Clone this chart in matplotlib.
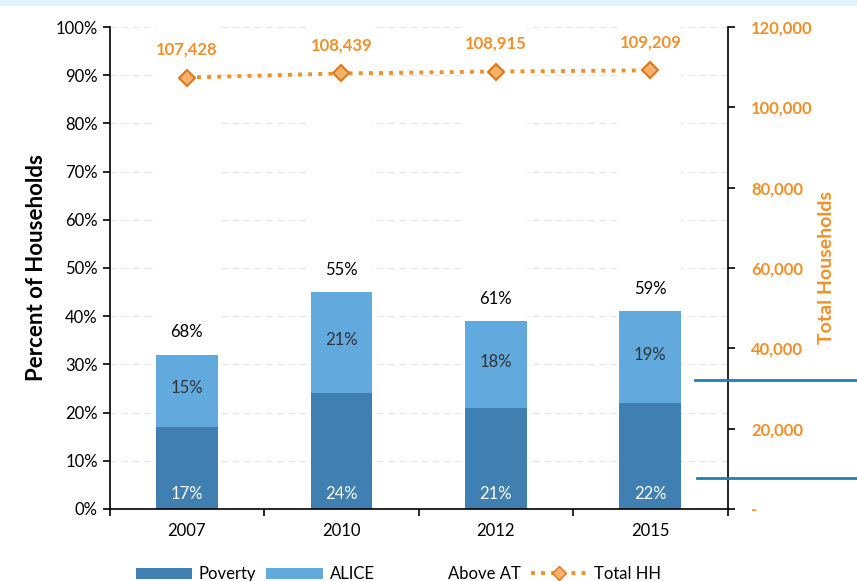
import matplotlib
matplotlib.use('Agg')
import matplotlib.pyplot as plt
import numpy as np
from matplotlib.patches import Patch
from matplotlib.lines import Line2D
from matplotlib.ticker import FuncFormatter, MultipleLocator

plt.rcParams['font.family'] = ['Lato', 'DejaVu Sans']

years = ['2007', '2010', '2012', '2015']
poverty = [17, 24, 21, 22]
alice = [15, 21, 18, 19]
above_at = [68, 55, 61, 59]
total_hh = [107428, 108439, 108915, 109209]

dark_blue = '#3f7fb1'
light_blue = '#62a9de'
orange = '#f0902a'

fig = plt.figure(figsize=(8.57, 5.81), dpi=100)
ax = fig.add_axes([0.128, 0.124, 0.721, 0.8295])

x = np.arange(len(years))
w = 0.4
base2 = np.array(poverty)
base3 = base2 + np.array(alice)

ax.bar(x, poverty, w, color=dark_blue, zorder=2)
ax.bar(x, alice, w, bottom=base2, color=light_blue, zorder=2)
ax.bar(x, above_at, w, bottom=base3, color='white', zorder=2)

for i in range(len(years)):
    ax.text(x[i], 3, f'{poverty[i]}%', ha='center', va='center', color='white', fontsize=12, zorder=3)
    ax.text(x[i], base2[i] + alice[i] / 2 + 0.5, f'{alice[i]}%', ha='center', va='center',
            color='#333333', fontsize=12, zorder=3)
    ax.text(x[i], base3[i] + 3, f'{above_at[i]}%', ha='center', va='bottom',
            color='black', fontsize=12, zorder=3)

ax.set_xlim(-0.5, len(years) - 0.5)
ax.set_ylim(0, 100)
ax.yaxis.set_major_locator(MultipleLocator(10))
ax.yaxis.set_major_formatter(FuncFormatter(lambda v, p: f'{int(v)}%'))
ax.set_xticks(x)
ax.set_xticklabels(years, fontsize=12)
ax.set_xticks(np.arange(-0.5, len(years)), minor=True)
ax.tick_params(axis='x', which='major', length=0, pad=10)
ax.tick_params(axis='x', which='minor', length=5, width=1.2)
ax.tick_params(axis='y', length=5, width=1.2, labelsize=12)
ax.set_ylabel('Percent of Households', fontsize=16, fontweight='bold', labelpad=6)
ax.grid(axis='y', color='#e4e4e4', linestyle=(0, (6, 4)), linewidth=0.8, zorder=0)
for s in ['top', 'right']:
    ax.spines[s].set_visible(False)
ax.spines['left'].set_linewidth(1.2)
ax.spines['bottom'].set_linewidth(1.2)

ax2 = ax.twinx()
ax2.plot(x, total_hh, linestyle=(0, (1, 1.6)), color=orange, linewidth=2.8,
         marker='D', markersize=8, markerfacecolor='#f6b26b', markeredgecolor='#e0781a',
         markeredgewidth=1.5, zorder=4)
for i in range(len(years)):
    ax2.text(x[i], total_hh[i] + 5000, f'{total_hh[i]:,}', ha='center', va='bottom',
             color=orange, fontsize=12, fontweight='bold')
ax2.set_ylim(0, 120000)
ax2.yaxis.set_major_locator(MultipleLocator(20000))
ax2.yaxis.set_major_formatter(FuncFormatter(lambda v, p: '-' if v == 0 else f'{int(v):,}'))
ax2.tick_params(axis='y', length=5, width=1.2, labelsize=12, labelcolor=orange, pad=12)
for lbl in ax2.get_yticklabels():
    lbl.set_fontweight('bold')
ax2.set_ylabel('Total Households', fontsize=14, fontweight='bold', color=orange, labelpad=4)
for s in ['top', 'left', 'bottom']:
    ax2.spines[s].set_visible(False)
ax2.spines['right'].set_linewidth(1.2)

handles = [Patch(facecolor=dark_blue), Patch(facecolor=light_blue), Patch(facecolor='white'),
           Line2D([], [], linestyle=(0, (1, 1.6)), color=orange, linewidth=2.8, marker='D',
                  markersize=7, markerfacecolor='#f6b26b', markeredgecolor='#e0781a')]
labels = ['Poverty', 'ALICE', 'Above AT', 'Total HH']
fig.legend(handles, labels, loc='lower center', ncol=4, frameon=False, fontsize=12,
           bbox_to_anchor=(0.465, -0.028), handlelength=3.4, columnspacing=0.6, handletextpad=0.4)

# stray blue rules at the right edge
fig.add_artist(Line2D([695 / 857, 1.0], [1 - 380 / 581, 1 - 380 / 581], color='#1f7fb6', linewidth=2))
fig.add_artist(Line2D([697 / 857, 1.0], [1 - 478 / 581, 1 - 478 / 581], color='#1f7fb6', linewidth=2))
fig.add_artist(plt.Rectangle((0, 1 - 5 / 581), 1, 5 / 581, color='#e3f1fa', transform=fig.transFigure))

fig.savefig('out.png', dpi=100)
